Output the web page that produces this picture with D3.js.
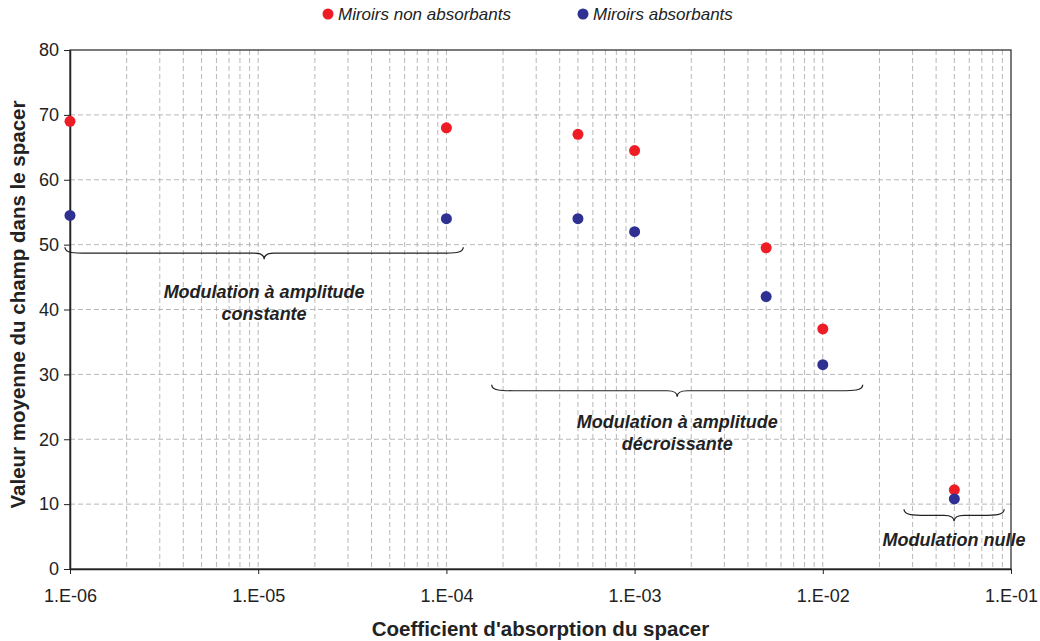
<!DOCTYPE html>
<html>
<head>
<meta charset="utf-8">
<script src="https://cdn.jsdelivr.net/npm/d3@7"></script>
<style>
  body { margin: 0; background: #fff; }
  svg { font-family: "Liberation Sans", Arial, sans-serif; }
</style>
</head>
<body>
<div id="chart"></div>
<script>
// absorption coefficient of the spacer (log axis)
const X_VALUES = [1e-6, 1e-4, 5e-4, 1e-3, 5e-3, 1e-2, 5e-2];
const NON_ABSORBANT = [69.0, 68.0, 67.0, 64.5, 49.5, 37.0, 12.2];
const ABSORBANT = [54.5, 54.0, 54.0, 52.0, 42.0, 31.5, 10.8];
const SERIES_NAMES = ["Miroirs non absorbants", "Miroirs absorbants"];
const SERIES_COLORS = ["#ee1c25", "#2e3192"];
const X_TICKS = [1e-6, 1e-5, 1e-4, 1e-3, 1e-2, 1e-1];
const X_TICK_LABELS = ["1.E-06", "1.E-05", "1.E-04", "1.E-03", "1.E-02", "1.E-01"];
const Y_TICKS = [0, 10, 20, 30, 40, 50, 60, 70, 80];

// brace annotations: x range, y level (data units), text lines
const BRACE_X0 = [0.94e-6, 1.74e-4, 2.7e-2];
const BRACE_X1 = [1.23e-4, 1.63e-2, 9.2e-2];
const BRACE_Y = [49.6, 28.4, 9.2];
const BRACE_TEXT = [
    ["Modulation à amplitude", "constante"],
    ["Modulation à amplitude", "décroissante"],
    ["Modulation nulle"]
];

const W = 1040, H = 641;
const margin = { top: 50, right: 29, bottom: 72, left: 70 };
const width = W - margin.left - margin.right;
const height = H - margin.top - margin.bottom;
const labelOffset = [51, 43, 37]; // px below each brace

const root = d3.select("#chart").append("svg")
    .attr("width", W)
    .attr("height", H);

const svg = root.append("g")
    .attr("transform", `translate(${margin.left},${margin.top})`);

const x = d3.scaleLog().domain([1e-6, 1e-1]).range([0, width]);
const y = d3.scaleLinear().domain([0, 80]).range([height, 0]);

// grid: minor log ticks + majors
const vGrid = [];
for (let e = -6; e < -1; e++) {
    for (let k = 1; k <= 9; k++) {
        const v = k * Math.pow(10, e);
        if (v > 1e-6) vGrid.push(v);
    }
}
svg.append("g").selectAll("line")
    .data(vGrid)
    .enter().append("line")
    .attr("x1", d => x(d)).attr("x2", d => x(d))
    .attr("y1", 0).attr("y2", height)
    .attr("stroke", "#b8b8b8")
    .attr("stroke-width", 1)
    .attr("stroke-dasharray", "5,3");

svg.append("g").selectAll("line")
    .data(Y_TICKS.filter(d => d > 0 && d < 80))
    .enter().append("line")
    .attr("x1", 0).attr("x2", width)
    .attr("y1", d => y(d)).attr("y2", d => y(d))
    .attr("stroke", "#b8b8b8")
    .attr("stroke-width", 1)
    .attr("stroke-dasharray", "5,3");

// frame
svg.append("rect")
    .attr("x", 0).attr("y", 0)
    .attr("width", width).attr("height", height)
    .attr("fill", "none")
    .attr("stroke", "#222")
    .attr("stroke-width", 1.2);

// axes
const xAxis = svg.append("g")
    .attr("transform", `translate(0,${height})`)
    .call(d3.axisBottom(x).tickValues(X_TICKS).tickSize(5).tickSizeOuter(0)
        .tickFormat((d, i) => X_TICK_LABELS[i]));
const yAxis = svg.append("g")
    .call(d3.axisLeft(y).tickValues(Y_TICKS).tickSize(6).tickSizeOuter(0));

[xAxis, yAxis].forEach(a => {
    a.select(".domain").attr("stroke", "#222").attr("stroke-width", 1.5);
    a.selectAll(".tick line").attr("stroke", "#222");
    a.selectAll("text")
        .style("font-size", "18px")
        .style("fill", "#222")
        .style("font-family", "Liberation Sans, Arial, sans-serif");
});
xAxis.selectAll("text").attr("y", 0).attr("dy", 0)
    .attr("transform", "translate(0,33)");
yAxis.selectAll("text").attr("x", -11);

// braces
function bracePath(x0, x1, y0) {
    const m = (x0 + x1) / 2;
    const h = 6;
    return `M${x0},${y0} C${x0},${y0 + h} ${x0 + 10},${y0 + h} ${x0 + 22},${y0 + h}` +
        ` L${m - 10},${y0 + h} C${m - 4},${y0 + h} ${m},${y0 + h + 1} ${m},${y0 + 2 * h}` +
        ` C${m},${y0 + h + 1} ${m + 4},${y0 + h} ${m + 10},${y0 + h}` +
        ` L${x1 - 22},${y0 + h} C${x1 - 10},${y0 + h} ${x1},${y0 + h} ${x1},${y0}`;
}

BRACE_X0.forEach((bx, i) => {
    const px0 = x(bx), px1 = x(BRACE_X1[i]), py = y(BRACE_Y[i]);
    svg.append("path")
        .attr("d", bracePath(px0, px1, py))
        .attr("fill", "none")
        .attr("stroke", "#222")
        .attr("stroke-width", 1.2);
    const t = svg.append("text")
        .attr("x", (px0 + px1) / 2)
        .attr("y", py + labelOffset[i])
        .attr("text-anchor", "middle")
        .style("font-size", "18px")
        .style("font-weight", "bold")
        .style("font-style", "italic")
        .style("fill", "#222");
    BRACE_TEXT[i].forEach((line, j) => {
        t.append("tspan")
            .attr("x", (px0 + px1) / 2)
            .attr("dy", j === 0 ? 0 : 22)
            .text(line);
    });
});

// points
[NON_ABSORBANT, ABSORBANT].forEach((vals, si) => {
    svg.append("g").selectAll("circle")
        .data(vals.map((v, i) => ({ x: X_VALUES[i], y: v })))
        .enter().append("circle")
        .attr("cx", d => x(d.x))
        .attr("cy", d => y(d.y))
        .attr("r", 5.5)
        .attr("fill", SERIES_COLORS[si]);
});

// legend
const legendX = [328, 583];
SERIES_NAMES.forEach((name, i) => {
    root.append("circle")
        .attr("cx", legendX[i]).attr("cy", 14)
        .attr("r", 5.5)
        .attr("fill", SERIES_COLORS[i]);
    root.append("text")
        .attr("x", legendX[i] + 10).attr("y", 20)
        .style("font-size", "17px")
        .style("font-style", "italic")
        .style("fill", "#222")
        .text(name);
});

// axis titles
root.append("text")
    .attr("x", margin.left + width / 2)
    .attr("y", 636)
    .attr("text-anchor", "middle")
    .style("font-size", "20.5px")
    .style("font-weight", "bold")
    .style("fill", "#222")
    .text("Coefficient d'absorption du spacer");

root.append("text")
    .attr("transform", `translate(25,${margin.top + height / 2 - 5}) rotate(-90)`)
    .attr("text-anchor", "middle")
    .style("font-size", "20.5px")
    .style("font-weight", "bold")
    .style("fill", "#222")
    .text("Valeur moyenne du champ dans le spacer");
</script>
</body>
</html>
